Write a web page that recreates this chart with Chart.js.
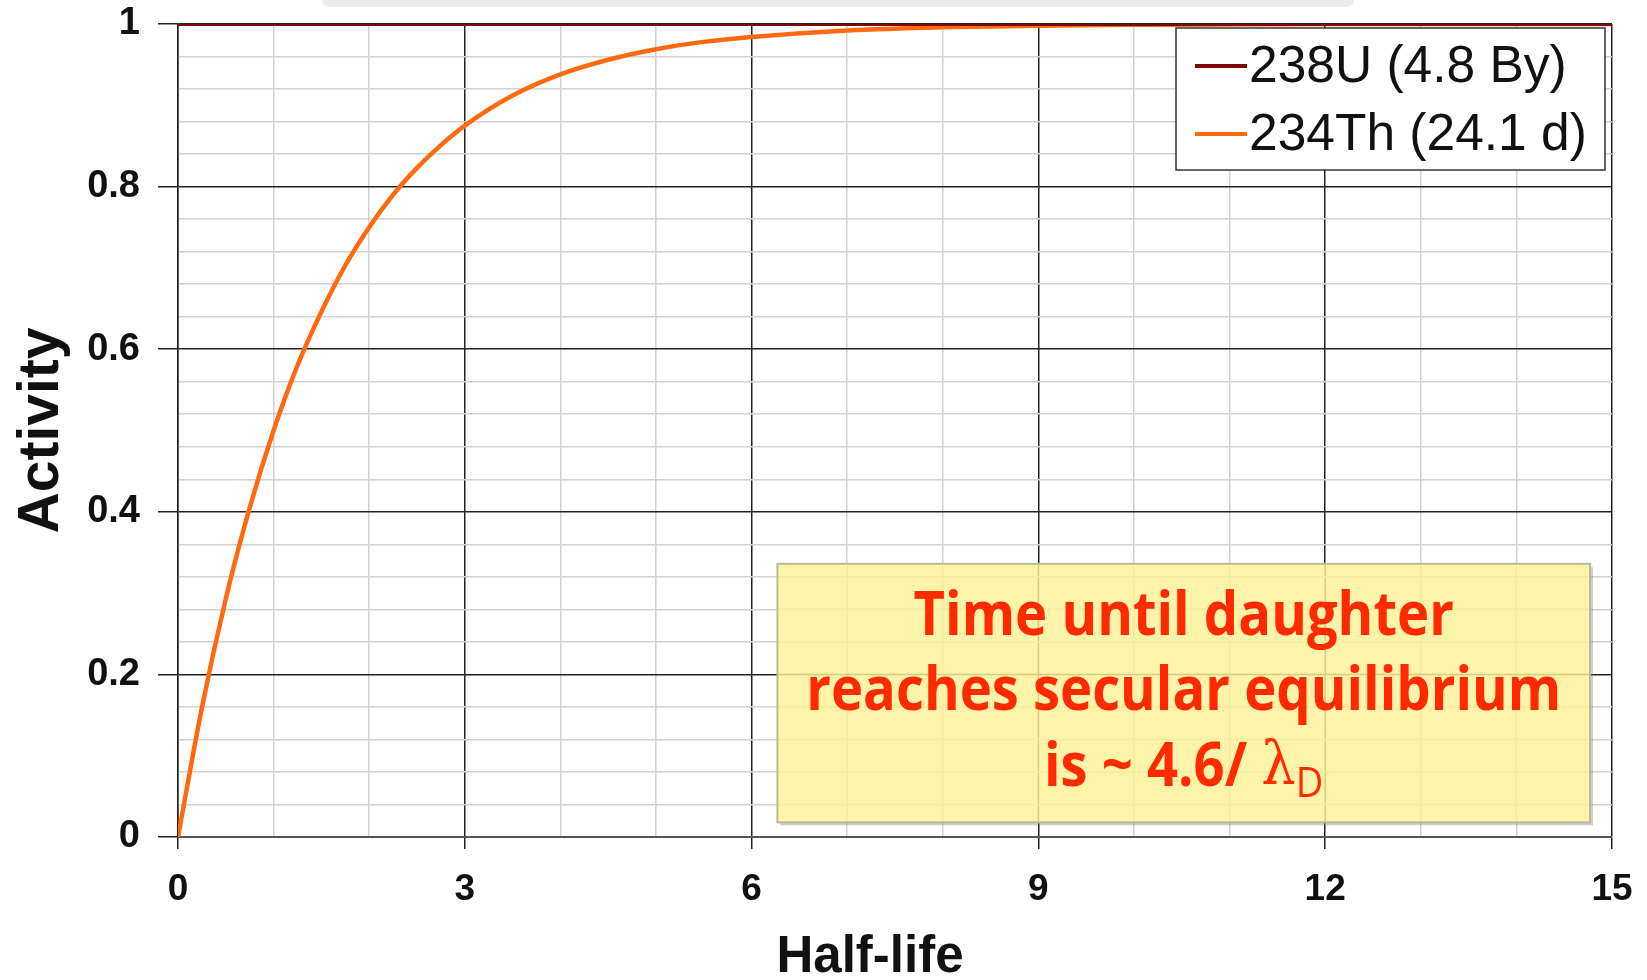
<!DOCTYPE html>
<html>
<head>
<meta charset="utf-8">
<script src="https://cdn.jsdelivr.net/npm/chart.js@4.4.1/dist/chart.umd.min.js"></script>
<style>
  body { margin: 0; background: #fff; }
  #wrap { width: 1647px; height: 980px; }
</style>
</head>
<body>
<div id="wrap"><canvas id="grafica" width="1647" height="980"></canvas></div>
<script>
// eje x en vidas medias
const halfLives = [0, 0.25, 0.5, 0.75, 1, 1.25, 1.5, 1.75, 2, 2.25, 2.5, 2.75, 3, 3.5, 4, 4.5, 5, 5.5, 6, 7, 8, 9, 10, 12, 15];
// actividad del 234Th
const thActivity = [0, 0.159, 0.293, 0.405, 0.5, 0.58, 0.646, 0.703, 0.75, 0.79, 0.823, 0.851, 0.875, 0.912, 0.938, 0.956, 0.969, 0.978, 0.984, 0.992, 0.996, 0.998, 0.999, 1, 1];
// actividad del 238U (constante)
const uHalfLives = [0, 15];
const uActivity = [1, 1];

const seriesLabels = ['238U (4.8 By)', '234Th (24.1 d)'];
const xTicksMajor = [0, 3, 6, 9, 12, 15];
const yTicksMajor = [0, 0.2, 0.4, 0.6, 0.8, 1];
const xTitle = 'Half-life';
const noteLines = ['Time until daughter', 'reaches secular equilibrium', 'is ~ 4.6/ '];
const noteGreek = 'λ';
const noteSub = 'D';

const uPoints = uHalfLives.map((x, i) => ({x: x, y: uActivity[i]}));
const thPoints = halfLives.map((x, i) => ({x: x, y: thActivity[i]}));

const esMayor = (v, lista) => lista.some(m => Math.abs(m - v) < 1e-6);

// cuadro amarillo con el texto
const notaPlugin = {
  id: 'nota',
  beforeDatasetsDraw(chart) {
    const ctx = chart.ctx;
    const xs = chart.scales.x, ys = chart.scales.y;
    const x0 = xs.getPixelForValue(6.27), x1 = xs.getPixelForValue(14.77);
    const y0 = ys.getPixelForValue(0.336), y1 = ys.getPixelForValue(0.018);
    ctx.save();
    // sombra
    ctx.fillStyle = 'rgba(120,120,100,0.35)';
    ctx.fillRect(x0 + 3, y0 + 3, x1 - x0, y1 - y0);
    ctx.fillStyle = '#fff';
    ctx.fillRect(x0, y0, x1 - x0, y1 - y0);
    ctx.restore();
    // redibujar rejilla debajo del cuadro semitransparente
    ctx.save();
    ctx.beginPath();
    ctx.rect(x0, y0, x1 - x0, y1 - y0);
    ctx.clip();
    ctx.lineWidth = 1.5;
    xs.ticks.forEach(t => {
      const px = xs.getPixelForValue(t.value);
      ctx.strokeStyle = esMayor(t.value, xTicksMajor) ? '#222' : '#d2d2d2';
      ctx.beginPath(); ctx.moveTo(px, y0); ctx.lineTo(px, y1); ctx.stroke();
    });
    ys.ticks.forEach(t => {
      const py = ys.getPixelForValue(t.value);
      ctx.strokeStyle = esMayor(t.value, yTicksMajor) ? '#222' : '#d2d2d2';
      ctx.beginPath(); ctx.moveTo(x0, py); ctx.lineTo(x1, py); ctx.stroke();
    });
    ctx.restore();
    ctx.save();
    ctx.fillStyle = 'rgba(252,240,150,0.82)';
    ctx.fillRect(x0, y0, x1 - x0, y1 - y0);
    ctx.strokeStyle = '#bdb99c';
    ctx.lineWidth = 2;
    ctx.strokeRect(x0, y0, x1 - x0, y1 - y0);

    const cx = (x0 + x1) / 2;
    ctx.fillStyle = '#ff2a00';
    ctx.textBaseline = 'middle';
    ctx.font = 'bold 60px "Open Sans"';
    const sx = 755 / ctx.measureText(noteLines[1]).width;
    const ys2 = [y0 + 54, y0 + 129, y0 + 205];
    for (let i = 0; i < 2; i++) {
      ctx.save();
      ctx.translate(cx, ys2[i]);
      ctx.scale(sx, 1);
      ctx.textAlign = 'center';
      ctx.fillText(noteLines[i], 0, 0);
      ctx.restore();
    }
    // ultima linea con lambda y subindice
    ctx.font = 'bold 60px "Open Sans"';
    const w1 = ctx.measureText(noteLines[2]).width;
    ctx.font = '60px "DejaVu Serif"';
    const w2 = ctx.measureText(noteGreek).width;
    ctx.font = '42px "Open Sans"';
    const w3 = ctx.measureText(noteSub).width;
    const total = (w1 + w2 + w3) * sx;
    ctx.save();
    ctx.translate(cx - total / 2, ys2[2]);
    ctx.scale(sx, 1);
    ctx.textAlign = 'left';
    ctx.font = 'bold 60px "Open Sans"';
    ctx.fillText(noteLines[2], 0, 0);
    ctx.font = '60px "DejaVu Serif"';
    ctx.fillText(noteGreek, w1, 0);
    ctx.font = '42px "Open Sans"';
    ctx.fillText(noteSub, w1 + w2, 16);
    ctx.restore();
    ctx.restore();
  }
};

// leyenda con marco, titulo del eje x y banda gris superior
const leyendaPlugin = {
  id: 'leyenda',
  beforeDraw(chart) {
    const ctx = chart.ctx;
    ctx.save();
    ctx.fillStyle = '#ececec';
    ctx.beginPath();
    ctx.roundRect(322, -10, 1032, 17, 8);
    ctx.fill();
    ctx.restore();
  },
  afterDraw(chart) {
    const ctx = chart.ctx;
    ctx.save();
    ctx.fillStyle = '#fff';
    ctx.fillRect(1176, 28, 429, 142);
    ctx.strokeStyle = '#333';
    ctx.lineWidth = 1.5;
    ctx.strokeRect(1176, 28, 429, 142);
    ctx.font = '51.5px "Liberation Sans"';
    ctx.textBaseline = 'middle';
    const filas = [66, 134];
    chart.data.datasets.forEach((ds, i) => {
      ctx.strokeStyle = ds.borderColor;
      ctx.lineWidth = 4;
      ctx.beginPath();
      ctx.moveTo(1195, filas[i]);
      ctx.lineTo(1247, filas[i]);
      ctx.stroke();
      ctx.fillStyle = '#111';
      ctx.fillText(ds.label, 1249, filas[i] + 2);
    });
    // titulo del eje x (desplazado a la izquierda como en el original)
    ctx.font = 'bold 51px "Liberation Sans"';
    ctx.textAlign = 'center';
    ctx.fillStyle = '#111';
    ctx.fillText(xTitle, 870, 958);
    ctx.restore();
  }
};

new Chart(document.getElementById('grafica'), {
  type: 'line',
  data: {
    datasets: [{
      label: seriesLabels[0],
      data: uPoints,
      borderColor: '#7d0a05',
      borderWidth: 4,
      pointRadius: 0
    }, {
      label: seriesLabels[1],
      data: thPoints,
      borderColor: '#ff6a10',
      borderWidth: 4.5,
      pointRadius: 0,
      cubicInterpolationMode: 'monotone'
    }]
  },
  options: {
    responsive: false,
    animation: false,
    layout: { padding: { top: 24, right: 35, left: 0, bottom: 0 } },
    plugins: {
      legend: { display: false },
      tooltip: { enabled: false }
    },
    scales: {
      x: {
        type: 'linear',
        min: 0,
        max: 15,
        afterFit: (s) => { s.height = 143; s.paddingLeft = 0; s.paddingRight = 0; },
        border: { color: '#555', width: 2 },
        grid: {
          color: (c) => c.tick && esMayor(c.tick.value, xTicksMajor) ? '#222' : '#d2d2d2',
          tickColor: (c) => c.tick && esMayor(c.tick.value, xTicksMajor) ? '#222' : 'rgba(0,0,0,0)',
          lineWidth: 1.5,
          tickLength: 12
        },
        ticks: {
          stepSize: 1,
          autoSkip: false,
          maxRotation: 0,
          padding: 19,
          color: '#111',
          font: { family: '"Liberation Sans"', weight: 'bold', size: 37 },
          callback: (v) => esMayor(v, xTicksMajor) ? String(v) : ''
        }
      },
      y: {
        min: 0,
        max: 1,
        afterFit: (s) => { s.width = 178; s.paddingTop = 0; s.paddingBottom = 0; },
        border: { color: '#222', width: 1.5 },
        grid: {
          color: (c) => c.tick && esMayor(c.tick.value, yTicksMajor) ? '#222' : '#d2d2d2',
          tickColor: (c) => c.tick && esMayor(c.tick.value, yTicksMajor) ? '#222' : 'rgba(0,0,0,0)',
          lineWidth: 1.5,
          tickLength: 20
        },
        ticks: {
          stepSize: 0.04,
          autoSkip: false,
          padding: 18,
          color: '#111',
          font: { family: '"Liberation Sans"', weight: 'bold', size: 38 },
          callback: (v) => esMayor(v, yTicksMajor) ? String(Math.round(v * 10) / 10) : ''
        },
        title: {
          display: true,
          text: 'Activity',
          color: '#111',
          font: { family: '"Liberation Sans"', weight: 'bold', size: 57, lineHeight: 1 },
          padding: { top: 14, bottom: 0 }
        }
      }
    }
  },
  plugins: [notaPlugin, leyendaPlugin]
});
</script>
</body>
</html>
